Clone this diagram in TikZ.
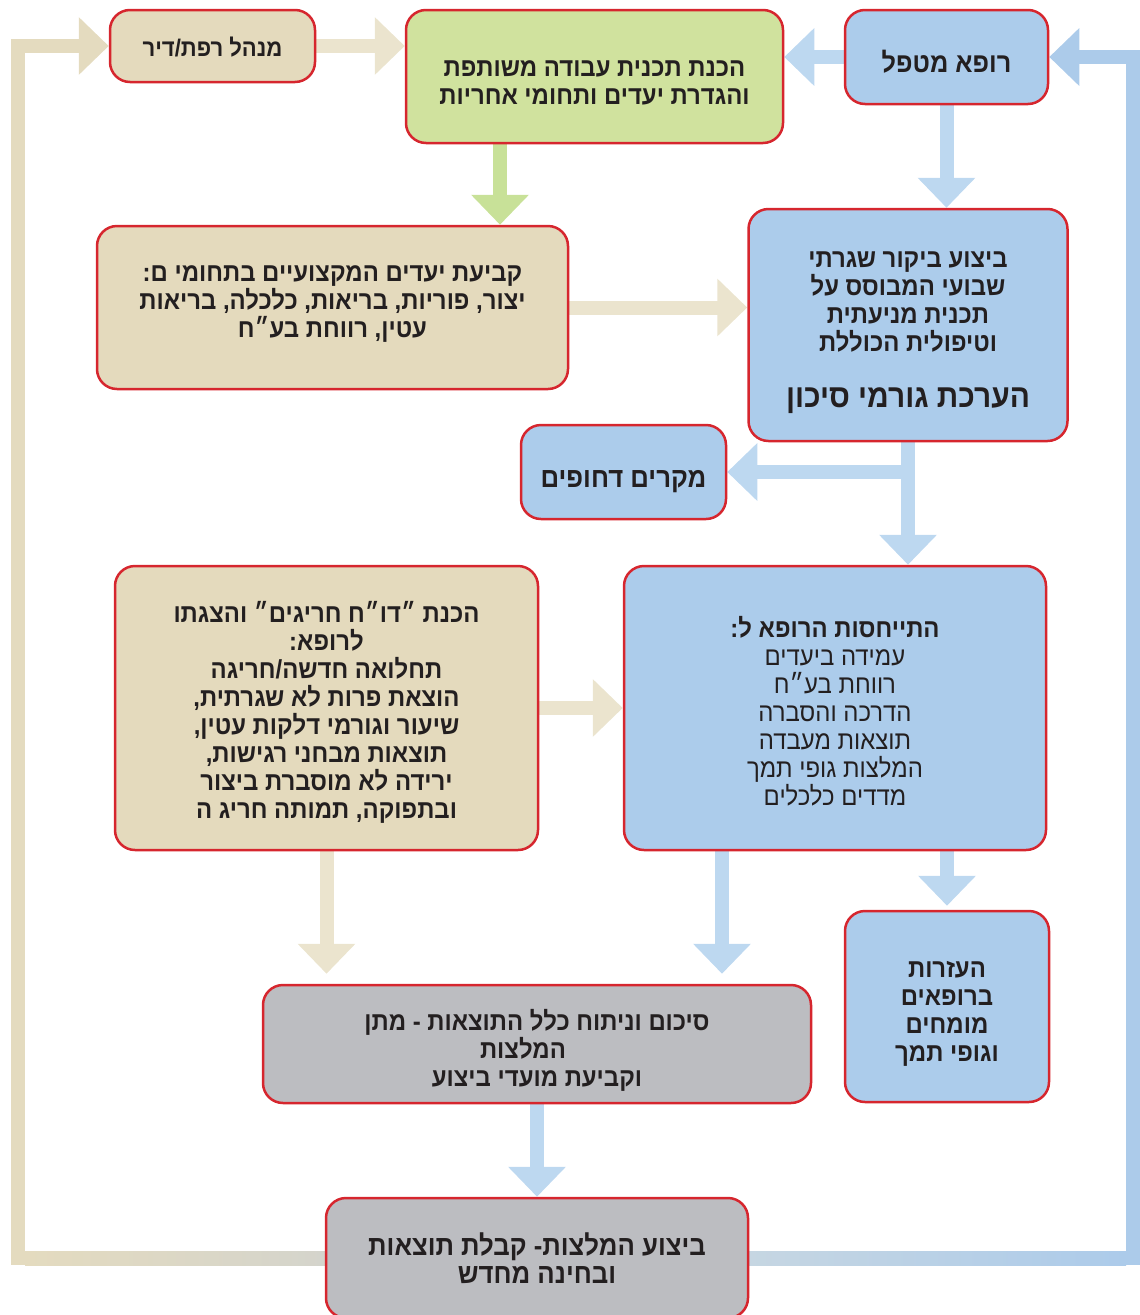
\documentclass[tikz,border=0pt]{standalone}
\usepackage{fontspec}
\usetikzlibrary{arrows.meta,backgrounds}
\TeXXeTstate=1
\newfontfamily\heb[Script=Hebrew,FakeStretch=0.92]{Liberation Sans}
\newcommand{\rtl}[1]{\beginR#1\endR}
\definecolor{boxred}{RGB}{214,38,46}
\definecolor{tanfill}{RGB}{228,218,189}
\definecolor{greenfill}{RGB}{208,226,158}
\definecolor{bluefill}{RGB}{172,204,235}
\definecolor{greyfill}{RGB}{188,189,193}
\definecolor{tanarr}{RGB}{235,228,206}
\definecolor{bluearr}{RGB}{189,216,240}
\definecolor{greenarr}{RGB}{200,225,152}
\definecolor{tanloop}{RGB}{228,219,191}
\definecolor{blueloop}{RGB}{172,203,234}
\definecolor{greyloopL}{RGB}{212,212,204}
\definecolor{greyloopR}{RGB}{198,214,226}
\definecolor{ink}{RGB}{35,31,32}
\begin{document}
\begin{tikzpicture}[x=1pt,y=-1pt,
  box/.style={draw=boxred, line width=2.5pt, rounded corners=20pt, inner sep=0pt},
  tanbox/.style={box, fill=tanfill},
  greenbox/.style={box, fill=greenfill},
  bluebox/.style={box, fill=bluefill},
  greybox/.style={box, fill=greyfill},
  txt/.style={align=center, inner sep=0pt, text=ink,
    font=\heb\bfseries\fontsize{26}{28}\selectfont},
  bigtxt/.style={txt, font=\heb\bfseries\fontsize{28}{30}\selectfont},
  fat/.style={line width=14pt, -{Triangle[width=56pt,length=30pt]}},
  tanarrow/.style={fat, draw=tanarr},
  bluearrow/.style={fat, draw=bluearr},
  greenarrow/.style={fat, draw=greenarr},
  tanloopline/.style={fat, line join=miter, draw=tanloop},
  blueloopline/.style={fat, line join=miter, draw=blueloop},
]
\useasboundingbox (0,0) rectangle (1140,1315);

% boxes
\node[tanbox, minimum width=205pt, minimum height=72pt] (mgr) at (212.5,46) {};
\node[greenbox, minimum width=377pt, minimum height=133pt] (green) at (594.5,76.5) {};
\node[bluebox, minimum width=203pt, minimum height=94pt] (doctor) at (946.5,57) {};
\node[tanbox, minimum width=471pt, minimum height=163pt] (goals) at (332.5,307.5) {};
\node[bluebox, minimum width=319pt, minimum height=232pt] (risk) at (908,325) {};
\node[bluebox, minimum width=205pt, minimum height=94pt] (urgent) at (623.5,472) {};
\node[tanbox, minimum width=423pt, minimum height=284pt] (report) at (326.5,708) {};
\node[bluebox, minimum width=422pt, minimum height=284pt] (response) at (835,708) {};
\node[bluebox, minimum width=204pt, minimum height=191pt] (assist) at (947,1006.5) {};
\node[greybox, minimum width=548pt, minimum height=118pt] (summary) at (537,1044) {};
\node[greybox, minimum width=422pt, minimum height=120pt] (bottom) at (537,1258) {};

% texts
\node[txt, font=\heb\bfseries\fontsize{24}{28}\selectfont] (mgr-t) at ([yshift=-1pt]mgr.center) {\rtl{מנהל רפת/דיר}};
\node[txt] (green-t) at ([yshift=-6.5pt]green.center)
  {\rtl{הכנת תכנית עבודה משותפת}\\\rtl{והגדרת יעדים ותחומי אחריות}};
\node[txt, font=\heb\bfseries\fontsize{27.5}{30}\selectfont] (doctor-t) at ([yshift=-5pt]doctor.center) {\rtl{רופא מטפל}};
\node[txt] (goals-t) at ([yshift=3.5pt]goals.center)
  {\rtl{קביעת יעדים המקצועיים בתחומי ם:}\\\rtl{יצור, פוריות, בריאות, כלכלה, בריאות}\\\rtl{עטין, רווחת בע״ח}};
\node[txt] (risk-t) at ([yshift=-8pt]risk.center)
  {\rtl{ביצוע ביקור שגרתי}\\\rtl{שבועי המבוסס על}\\\rtl{תכנית מניעתית}\\\rtl{וטיפולית הכוללת}\\[28pt]
   {\fontsize{32.5}{34}\selectfont\rtl{הערכת גורמי סיכון}}};
\node[bigtxt] (urgent-t) at ([yshift=-10pt]urgent.center) {\rtl{מקרים דחופים}};
\node[txt] (report-t) at ([yshift=-4.5pt]report.center)
  {\rtl{הכנת ״דו״ח חריגים״ והצגתו}\\\rtl{לרופא:}\\\rtl{תחלואה חדשה/חריגה}\\\rtl{הוצאת פרות לא שגרתית,}\\\rtl{שיעור וגורמי דלקות עטין,}\\\rtl{תוצאות מבחני רגישות,}\\\rtl{ירידה לא מוסברת ביצור}\\\rtl{ובתפוקה, תמותה חריג ה}};
\node[txt] (response-t) at ([yshift=-3pt]response.center)
  {\rtl{התייחסות הרופא ל:}\\\mdseries\rtl{עמידה ביעדים}\\\mdseries\rtl{רווחת בע״ח}\\\mdseries\rtl{הדרכה והסברה}\\\mdseries\rtl{תוצאות מעבדה}\\\mdseries\rtl{המלצות גופי תמך}\\\mdseries\rtl{מדדים כלכלים}};
\node[txt] (assist-t) at ([yshift=-7.5pt]assist.center)
  {\rtl{העזרות}\\\rtl{ברופאים}\\\rtl{מומחים}\\\rtl{וגופי תמך}};
\node[txt] (summary-t) at ([yshift=-6pt]summary.center)
  {\rtl{סיכום וניתוח כלל התוצאות - מתן}\\\rtl{\hspace*{28pt}המלצות}\\\rtl{וקביעת מועדי ביצוע}};
\node[txt, font=\heb\bfseries\fontsize{28}{28}\selectfont] (bottom-t) at (bottom.center)
  {\rtl{ביצוע המלצות- קבלת תוצאות}\\\rtl{ובחינה מחדש}};

% helper coordinates
\coordinate (gx) at (500,0);
\coordinate (rx) at (722,0);
\coordinate (cornerTL) at (18,46);
\coordinate (cornerTR) at (1133,57);

\begin{scope}[on background layer]
  \draw[tanarrow] (mgr.east) -- (mgr.east -| green.west);
  \draw[bluearrow] (doctor.west) -- (doctor.west -| green.east);
  \draw[bluearrow] (doctor.south) -- (doctor.south |- risk.north);
  \draw[greenarrow] (green.south -| gx) -- (goals.north -| gx);
  \draw[tanarrow] (goals.east) -- (goals.east -| risk.west);
  \draw[bluearrow] (risk.south) -- (risk.south |- response.north);
  \draw[bluearrow] (risk.south |- urgent.east) -- (urgent.east);
  \draw[tanarrow] (report.east) -- (report.east -| response.west);
  \draw[tanarrow, shorten >=10pt] (report.south) -- (report.south |- summary.north);
  \draw[bluearrow, shorten >=10pt] (response.south -| rx) -- (summary.north -| rx);
  \draw[bluearrow, shorten >=4pt] (response.south -| assist.north) -- (assist.north);
  \draw[bluearrow] (summary.south) -- (bottom.north);
  % feedback loops
  \draw[tanloopline] (bottom.west) -| (cornerTL) -- (mgr.west);
  \draw[blueloopline] (bottom.east) -| (cornerTR) -- (doctor.east);
  \shade[left color=tanloop, right color=greyloopL] (25,1251) rectangle (326,1265);
  \shade[left color=greyloopR, right color=blueloop] (748,1251) rectangle (1126,1265);
\end{scope}
\end{tikzpicture}
\end{document}
